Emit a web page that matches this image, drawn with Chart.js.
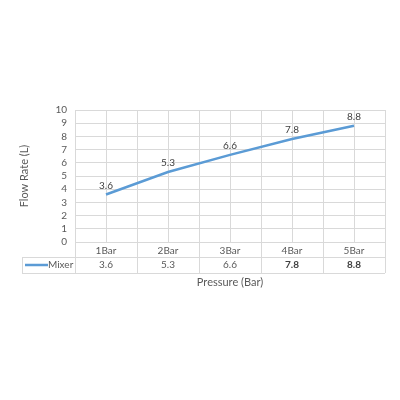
<!DOCTYPE html>
<html lang="en">
<head>
    <meta charset="UTF-8">
    <title>Flow Rate vs Pressure</title>
    <script src="https://cdn.jsdelivr.net/npm/chart.js"></script>
    <style>
        body {
            margin: 0;
            padding: 0;
            background: #fff;
        }

        .chart-container {
            width: 400px;
            height: 400px;
        }
    </style>
</head>
<body>

    <div class="chart-container">
        <canvas id="flowChart" width="400" height="400"></canvas>
    </div>

    <script>
        // Chart data
        const pressureLabels = ['1Bar', '2Bar', '3Bar', '4Bar', '5Bar'];
        const mixerFlow = [3.6, 5.3, 6.6, 7.8, 8.8];
        const seriesName = 'Mixer';
        const boldCells = [false, false, false, true, true];

        const lineColor = '#5b9bd5';
        const gridColor = '#d9d9d9';
        const textColor = '#595959';
        const fontFamily = 'Lato, "Open Sans", sans-serif';

        // Value labels above each point
        const pointLabels = {
            id: 'pointLabels',
            afterDatasetsDraw(chart) {
                const ctx = chart.ctx;
                const meta = chart.getDatasetMeta(0);
                ctx.save();
                ctx.fillStyle = '#404040';
                ctx.font = '10px ' + fontFamily;
                ctx.textAlign = 'center';
                ctx.textBaseline = 'middle';
                meta.data.forEach((pt, i) => {
                    ctx.fillText(mixerFlow[i], pt.x, pt.y - 9);
                });
                ctx.restore();
            }
        };

        // Data table under the x axis
        const dataTable = {
            id: 'dataTable',
            afterDraw(chart) {
                const ctx = chart.ctx;
                const area = chart.chartArea;
                const x = chart.scales.x;
                const half = (x.getPixelForValue(1) - x.getPixelForValue(0)) / 2;
                const row1 = area.bottom + 15;
                const row2 = row1 + 16;
                const tableLeft = 22;

                ctx.save();
                ctx.strokeStyle = gridColor;
                ctx.lineWidth = 1;
                ctx.beginPath();
                // horizontal lines
                ctx.moveTo(tableLeft, row1 + 0.5);
                ctx.lineTo(area.right, row1 + 0.5);
                ctx.moveTo(tableLeft, row2 + 0.5);
                ctx.lineTo(area.right, row2 + 0.5);
                // vertical lines
                ctx.moveTo(tableLeft + 0.5, row1);
                ctx.lineTo(tableLeft + 0.5, row2);
                pressureLabels.forEach((l, i) => {
                    const bx = Math.round(x.getPixelForValue(i) - half) + 0.5;
                    ctx.moveTo(bx, area.bottom);
                    ctx.lineTo(bx, row2);
                });
                const rx = Math.round(x.getPixelForValue(pressureLabels.length - 1) + half) + 0.5;
                ctx.moveTo(rx, area.bottom);
                ctx.lineTo(rx, row2);
                ctx.stroke();

                // legend key
                const midY = (row1 + row2) / 2;
                ctx.strokeStyle = lineColor;
                ctx.lineWidth = 2.5;
                ctx.beginPath();
                ctx.moveTo(25, midY);
                ctx.lineTo(48, midY);
                ctx.stroke();

                ctx.fillStyle = textColor;
                ctx.textBaseline = 'middle';
                ctx.textAlign = 'left';
                ctx.font = '10px ' + fontFamily;
                ctx.fillText(seriesName, 48, midY);

                ctx.textAlign = 'center';
                mixerFlow.forEach((v, i) => {
                    ctx.font = (boldCells[i] ? 'bold ' : '') + '10px ' + fontFamily;
                    ctx.fillStyle = boldCells[i] ? '#404040' : textColor;
                    ctx.fillText(v, x.getPixelForValue(i), midY);
                });
                ctx.restore();
            }
        };

        const ctx = document.getElementById('flowChart').getContext('2d');
        new Chart(ctx, {
            type: 'line',
            data: {
                labels: pressureLabels,
                datasets: [{
                    label: seriesName,
                    data: mixerFlow,
                    borderColor: lineColor,
                    borderWidth: 2.5,
                    pointRadius: 0,
                    tension: 0,
                    fill: false
                }]
            },
            options: {
                responsive: false,
                animation: false,
                layout: {
                    padding: { left: 15, right: 15, top: 110, bottom: 100 }
                },
                plugins: {
                    legend: { display: false },
                    tooltip: { enabled: false }
                },
                scales: {
                    x: {
                        type: 'category',
                        offset: true,
                        grid: {
                            offset: false,
                            color: gridColor,
                            drawTicks: false
                        },
                        border: { color: gridColor },
                        ticks: {
                            color: textColor,
                            font: { family: fontFamily, size: 10 },
                            padding: 3,
                            maxRotation: 0
                        },
                        title: {
                            display: true,
                            text: 'Pressure (Bar)',
                            color: textColor,
                            font: { family: fontFamily, size: 11 },
                            padding: { top: 0, bottom: 11 }
                        },
                        afterFit: (scale) => { scale.height = 58; }
                    },
                    x2: {
                        type: 'category',
                        position: 'top',
                        offset: true,
                        grid: {
                            offset: true,
                            color: gridColor,
                            drawTicks: false
                        },
                        border: { display: false },
                        ticks: { display: false },
                        afterFit: (scale) => { scale.height = 0; }
                    },
                    y: {
                        min: 0,
                        max: 10,
                        grid: {
                            color: gridColor,
                            drawTicks: false
                        },
                        border: { display: false },
                        ticks: {
                            stepSize: 1,
                            autoSkip: false,
                            color: textColor,
                            font: { family: fontFamily, size: 10 },
                            padding: 8
                        },
                        title: {
                            display: true,
                            text: 'Flow Rate (L)',
                            color: textColor,
                            font: { family: fontFamily, size: 11 },
                            padding: { top: 3, bottom: 0 }
                        },
                        afterFit: (scale) => { scale.width = 60; }
                    }
                }
            },
            plugins: [pointLabels, dataTable]
        });
    </script>

</body>
</html>
